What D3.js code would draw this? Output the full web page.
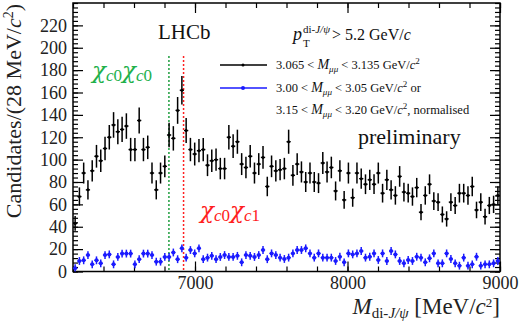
<!DOCTYPE html>
<html><head><meta charset="utf-8">
<script src="https://cdn.jsdelivr.net/npm/d3@7"></script>
<style>
html,body{margin:0;padding:0;background:#fff;}
svg{display:block;font-family:"Liberation Serif","Times New Roman",serif;}
</style></head>
<body>
<svg id="c" width="520" height="321"></svg>
<script>
// ---- data ----
const binStart = 6200;
const binWidth = 28;
const signalCounts = [43,67,88,73,90,103,99,110,120,131,125,127,130,109,109,135,109,111,88,73,
  88,94,122,119,144,162,126,109,105,108,109,95,99,100,92,92,120,112,116,96,
  93,103,88,96,102,76,94,90,91,92,116,86,96,89,80,88,80,79,97,89,
  93,72,90,64,88,66,88,83,78,82,78,88,70,82,73,68,85,71,70,67,
  75,53,68,78,63,62,51,47,62,59,70,70,68,76,55,62,49,59,60,68];
const sidebandCounts = [3,9.4,10,14.7,6.4,10,7.3,14.7,15.3,6.4,13,16,16,16,6.4,11,16,16,14.7,8.8,
  8.8,13,13,17,11,20.7,12.4,19.2,16.2,20.7,11,12.4,14,11,13,14.7,13,13,14,8.2,
  14.7,14,13,14.7,19.2,11,16.2,14.7,12.4,11.2,12.4,16.2,19.2,19.2,20.7,16.2,12.4,16.2,12.4,12.4,
  12.4,9.4,13.2,8.2,16.2,15.3,16.2,18.3,12.4,13.2,16.2,10.3,16.2,9.4,18.3,15.3,9.4,7.3,10.3,9.4,
  13.2,12.4,8.2,11.8,16.2,7.3,7.3,16.2,11.2,7.3,5.2,12.4,5.2,6.4,13.2,5.2,6.4,6.4,7.3,9.4];
const sidebandError = 3.5;
const thresholds = [6829, 6925];       // chi_c0 chi_c0, chi_c0 chi_c1
const xMajorTicks = [7000, 8000, 9000];
const yMajorTicks = [0,20,40,60,80,100,120,140,160,180,200,220];

// ---- layout ----
const svg = d3.select("#c");
const L = 73, R = 500, T = 3, B = 271.5;
const x = d3.scaleLinear().domain([6200, 9000]).range([L, R]);
const y = d3.scaleLinear().domain([0, 240]).range([B, T]);
const centers = signalCounts.map((d, i) => binStart + binWidth * (i + 0.5));

const xMinor = d3.range(6200, 9001, 200);
const yMinor = d3.range(0, 241, 4);

function styleAxis(g){ g.select(".domain").remove(); g.selectAll("line").attr("stroke","#000").attr("stroke-width",1.2); }

// bottom
svg.append("g").attr("transform",`translate(0,${B})`)
  .call(d3.axisBottom(x).tickValues(xMinor).tickSize(-5).tickFormat("")).call(styleAxis);
svg.append("g").attr("transform",`translate(0,${B})`)
  .call(d3.axisBottom(x).tickValues(xMajorTicks).tickSize(-10).tickPadding(5).tickFormat(d3.format("d")))
  .call(styleAxis)
  .call(g => g.selectAll("text").attr("font-size",18).attr("fill","#222").attr("font-family","Liberation Serif"));
// top
svg.append("g").attr("transform",`translate(0,${T})`)
  .call(d3.axisTop(x).tickValues(xMinor).tickSize(-5).tickFormat("")).call(styleAxis);
svg.append("g").attr("transform",`translate(0,${T})`)
  .call(d3.axisTop(x).tickValues(xMajorTicks).tickSize(-10).tickFormat("")).call(styleAxis);
// left
svg.append("g").attr("transform",`translate(${L},0)`)
  .call(d3.axisLeft(y).tickValues(yMinor).tickSize(-5).tickFormat("")).call(styleAxis);
svg.append("g").attr("transform",`translate(${L},0)`)
  .call(d3.axisLeft(y).tickValues(yMajorTicks).tickSize(-10).tickPadding(6).tickFormat(d3.format("d")))
  .call(styleAxis)
  .call(g => g.selectAll("text").attr("font-size",18).attr("fill","#222").attr("font-family","Liberation Serif"));
// right
svg.append("g").attr("transform",`translate(${R},0)`)
  .call(d3.axisRight(y).tickValues(yMinor).tickSize(-5).tickFormat("")).call(styleAxis);
svg.append("g").attr("transform",`translate(${R},0)`)
  .call(d3.axisRight(y).tickValues(yMajorTicks).tickSize(-10).tickFormat("")).call(styleAxis);

// frame
svg.append("rect").attr("x",L).attr("y",T).attr("width",R-L).attr("height",B-T)
  .attr("fill","none").attr("stroke","#000").attr("stroke-width",1.5);

// threshold lines
const thrColors = ["#1f9e3f", "#ff2020"];
svg.selectAll(".thr").data(thresholds).join("line")
  .attr("x1", d => x(d)).attr("x2", d => x(d))
  .attr("y1", 56).attr("y2", B)
  .attr("stroke", (d,i) => thrColors[i]).attr("stroke-width",1.5).attr("stroke-dasharray","2,2");

// points
const half = (x(binStart+binWidth) - x(binStart)) / 2;
function drawSeries(vals, errFn, color, r, cls){
  const g = svg.append("g").attr("class", cls);
  const pts = g.selectAll("g").data(vals.map((v,i)=>({x:centers[i], v, e:errFn(v)}))).join("g");
  pts.append("line").attr("x1", d=>x(d.x)).attr("x2", d=>x(d.x))
    .attr("y1", d=>y(d.v+d.e)).attr("y2", d=>y(Math.max(0,d.v-d.e)))
    .attr("stroke", color).attr("stroke-width", 1.5);
  pts.append("line").attr("x1", d=>x(d.x)-half).attr("x2", d=>x(d.x)+half)
    .attr("y1", d=>y(d.v)).attr("y2", d=>y(d.v))
    .attr("stroke", color).attr("stroke-width", 1.3);
  pts.append("circle").attr("cx", d=>x(d.x)).attr("cy", d=>y(d.v)).attr("r", r).attr("fill", color);
}
drawSeries(signalCounts, v => Math.sqrt(v), "#000", 1.5, "sig");
drawSeries(sidebandCounts, v => sidebandError, "#1a1aff", 2, "sb");

// texts
const F = "Liberation Serif";
// y title
const yt = svg.append("text").attr("transform","translate(21,4) rotate(-90)")
  .attr("text-anchor","end").attr("font-size",22).attr("fill","#222").attr("font-family",F);
yt.append("tspan").text("Candidates/(28 MeV/");
yt.append("tspan").attr("font-style","italic").text("c");
yt.append("tspan").attr("font-size",14).attr("dy",-8).text("2");
yt.append("tspan").attr("dy",8).text(")");
// x title
const xt = svg.append("text").attr("x",R).attr("y",314).attr("text-anchor","end")
  .attr("font-size",23).attr("fill","#222").attr("font-family",F);
xt.append("tspan").attr("font-style","italic").text("M");
xt.append("tspan").attr("font-size",15).attr("dy",4).text("di-");
xt.append("tspan").attr("font-size",15).attr("font-style","italic").text("J/ψ");
xt.append("tspan").attr("dy",-4).text("  [MeV/");
xt.append("tspan").attr("font-style","italic").text("c");
xt.append("tspan").attr("font-size",13).attr("dy",-7).text("2");
xt.append("tspan").attr("dy",7).text("]");

// LHCb
svg.append("text").attr("x",158).attr("y",39).attr("font-size",21).attr("fill","#111")
  .attr("font-family",F).text("LHCb");
// pT cut
svg.append("text").attr("x",293).attr("y",40).attr("font-size",18).attr("font-style","italic")
  .attr("font-family",F).attr("fill","#111").text("p");
const sup = svg.append("text").attr("x",303).attr("y",33).attr("font-size",11)
  .attr("font-family",F).attr("fill","#111");
sup.append("tspan").text("di-");
sup.append("tspan").attr("font-style","italic").text("J/ψ");
svg.append("text").attr("x",303).attr("y",47).attr("font-size",11)
  .attr("font-family",F).attr("fill","#111").text("T");
const pt = svg.append("text").attr("x",332).attr("y",40).attr("font-size",16)
  .attr("font-family",F).attr("fill","#111");
pt.append("tspan").text("> 5.2 GeV/");
pt.append("tspan").attr("font-style","italic").text("c");

// legend
const legRows = [
  {y:65, color:"#000", lo:"3.065", hi:"3.135", tail:""},
  {y:88, color:"#1a1aff", lo:"3.00", hi:"3.05", tail:" or"},
  {y:110, color:null, lo:"3.15", hi:"3.20", tail:", normalised"}
];
legRows.forEach(r => {
  if (r.color){
    svg.append("line").attr("x1",220).attr("x2",267).attr("y1",r.y).attr("y2",r.y)
      .attr("stroke",r.color).attr("stroke-width",1.5);
    svg.append("circle").attr("cx",243).attr("cy",r.y).attr("r",r.color==="#000"?1.5:2).attr("fill",r.color);
  }
  const t = svg.append("text").attr("x",276).attr("y",r.y+4).attr("font-size",12.5)
    .attr("font-family",F).attr("fill","#111");
  t.append("tspan").text(r.lo + " <  ");
  t.append("tspan").attr("font-style","italic").attr("font-size",14).text("M");
  t.append("tspan").attr("font-style","italic").attr("font-size",9).attr("dy",3).text("μμ");
  t.append("tspan").attr("dy",-3).text(" < " + r.hi + " GeV/");
  t.append("tspan").attr("font-style","italic").text("c");
  t.append("tspan").attr("font-size",9).attr("dy",-5).text("2");
  t.append("tspan").attr("dy",5).text(r.tail);
});

// preliminary
svg.append("text").attr("x",358).attr("y",144).attr("font-size",22).attr("fill","#111")
  .attr("font-family",F).text("preliminary");

// chi labels
function chiLabel(xp, yp, subs, color){
  const t = svg.append("text").attr("x",xp).attr("y",yp).attr("font-size",23)
    .attr("font-family",F).attr("fill",color);
  t.append("tspan").attr("font-family","DejaVu Serif").attr("font-style","italic").text("χ");
  t.append("tspan").attr("font-size",17).attr("dy",3).attr("font-style","italic").text("c")
   .append("tspan").attr("font-style","normal").text(subs[0]);
  t.append("tspan").attr("dy",-3).attr("font-family","DejaVu Serif").attr("font-style","italic").text("χ");
  t.append("tspan").attr("font-size",17).attr("dy",3).attr("font-style","italic").text("c")
   .append("tspan").attr("font-style","normal").text(subs[1]);
}
chiLabel(92, 78, ["0","0"], "#22b04a");
chiLabel(200, 218, ["0","1"], "#ff2020");
</script>
</body></html>
